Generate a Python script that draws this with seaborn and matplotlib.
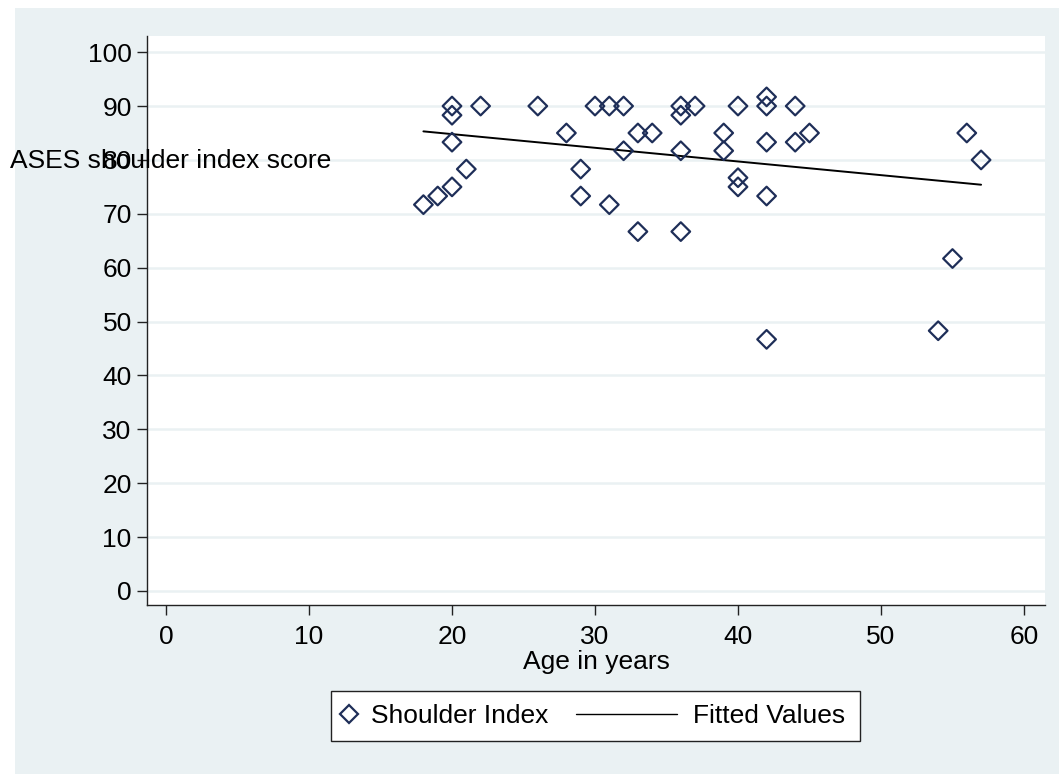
import numpy as np
import pandas as pd
import matplotlib
matplotlib.use("Agg")
import matplotlib.pyplot as plt
from matplotlib.lines import Line2D
from matplotlib.patches import Rectangle
import seaborn as sns

# ---- data ----
age = [18, 19, 20, 20, 20, 20, 21, 22, 26, 28, 29, 29, 30, 31, 31, 32, 32,
       33, 33, 34, 36, 36, 36, 36, 37, 39, 39, 40, 40, 40, 42, 42, 42, 42, 42,
       44, 44, 45, 54, 55, 56, 57]
score = [71.7, 73.3, 90, 88.3, 83.3, 75, 78.3, 90, 90, 85, 78.3, 73.3, 90, 90, 71.7, 90, 81.7,
         85, 66.7, 85, 90, 88.3, 81.7, 66.7, 90, 85, 81.7, 90, 76.7, 75, 91.7, 90, 83.3, 73.3, 46.7,
         90, 83.3, 85, 48.3, 61.7, 85, 80]
fit_age = [18, 57]
fit_value = [85.3, 75.4]
x_ticks = [0, 10, 20, 30, 40, 50, 60]
y_ticks = [0, 10, 20, 30, 40, 50, 60, 70, 80, 90, 100]
series_labels = ["Shoulder Index", "Fitted Values"]
x_label = "Age in years"
y_label = "ASES shoulder index score"

df = pd.DataFrame({"age": age, "score": score})
df_fit = pd.DataFrame({"age": fit_age, "fit": fit_value})

sns.set_style("white")
plt.rcParams["font.family"] = ["Liberation Sans", "DejaVu Sans"]
plt.rcParams["text.color"] = "black"
plt.rcParams["axes.labelcolor"] = "black"

W, H = 1059, 774
FS = 19
NAVY = "#1E2E58"
BG = "#EAF1F3"

fig = plt.figure(figsize=(W / 100, H / 100), dpi=100, facecolor="white")
fig.patches.append(Rectangle((15 / W, 0), 1, 1 - 8 / H, transform=fig.transFigure,
                             facecolor=BG, edgecolor="none", zorder=-10))

ax = fig.add_axes([147 / W, 1 - 605 / H, (1045 - 147) / W, (605 - 36) / H])
ax.set_facecolor("white")

sns.lineplot(data=df_fit, x="age", y="fit", color="black", lw=1.4, zorder=2, ax=ax)
sns.scatterplot(data=df, x="age", y="score", marker="D", s=90, facecolor="none",
                edgecolor=NAVY, linewidth=1.6, zorder=3, ax=ax)

ax.set_xlim(-1.33, 61.47)
ax.set_ylim(-2.6, 103.0)
ax.set_xticks(x_ticks)
ax.set_yticks(y_ticks)
ax.set_xticklabels([str(t) for t in x_ticks])
ax.set_yticklabels([str(t) for t in y_ticks])
ax.set_xlabel("")
ax.set_ylabel("")
ax.yaxis.grid(True, color=BG, lw=1.8, zorder=0)
ax.xaxis.grid(False)
ax.set_axisbelow(True)
for s in ["top", "right"]:
    ax.spines[s].set_visible(False)
for s in ["left", "bottom"]:
    ax.spines[s].set_color("#222222")
    ax.spines[s].set_linewidth(1.0)
ax.tick_params(axis="both", direction="out", length=7.5, width=1.0, color="#222222",
               labelsize=FS, labelcolor="black")
ax.tick_params(axis="y", pad=3.5)
ax.tick_params(axis="x", pad=7)
ax.tick_params(left=True, bottom=True)

fig.text(10 / W, 1 - 161 / H, y_label, fontsize=FS, ha="left", va="center", color="black")
fig.text(596 / W, 1 - 662 / H, x_label, fontsize=FS, ha="center", va="center", color="black")

# legend box
fig.patches.append(Rectangle((331 / W, 1 - 741 / H), (860 - 331) / W, 50 / H,
                             transform=fig.transFigure, facecolor="white",
                             edgecolor="#222222", lw=1.0, zorder=5))
yc = 1 - 716 / H
h1 = Line2D([], [], marker="D", ls="none", markersize=9, markerfacecolor="none",
            markeredgecolor=NAVY, markeredgewidth=1.6)
h2 = Line2D([], [], color="black", lw=1.0)
leg1 = fig.legend([h1], [series_labels[0]], loc="center left",
                  bbox_to_anchor=(338.5 / W, yc), bbox_transform=fig.transFigure,
                  frameon=False, fontsize=FS, handlelength=0.8, handletextpad=0.44,
                  borderpad=0, borderaxespad=0, labelcolor="black")
leg2 = fig.legend([h2], [series_labels[1]], loc="center left",
                  bbox_to_anchor=(576 / W, yc), bbox_transform=fig.transFigure,
                  frameon=False, fontsize=FS, handlelength=3.83, handletextpad=0.6,
                  borderpad=0, borderaxespad=0, labelcolor="black")
leg1.set_zorder(6)
leg2.set_zorder(6)

fig.savefig("out.png", dpi=100, facecolor="white")
